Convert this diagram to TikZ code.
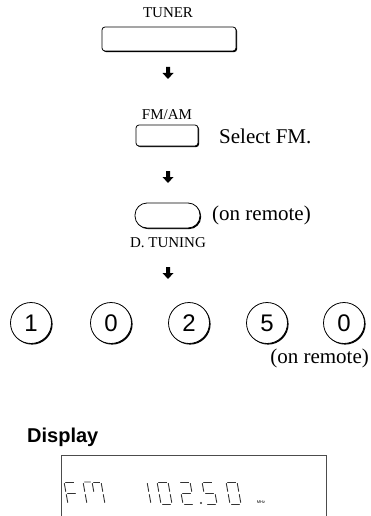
\documentclass[tikz,border=0pt]{standalone}
\usepackage{fontspec}
\setmainfont{Liberation Serif}
\setsansfont{Liberation Sans}
\usetikzlibrary{shadows}

% segments of one display digit (cell 11 x 22)
\def\lcda{(1.5,22)--(9.5,22)}
\def\lcdb{(11,20.5)--(11,12.5)}
\def\lcdc{(11,9.5)--(11,1.5)}
\def\lcdd{(1.5,0)--(9.5,0)}
\def\lcde{(0,1.5)--(0,9.5)}
\def\lcdf{(0,12.5)--(0,20.5)}
\def\lcdg{(1.5,11)--(9.5,11)}
\newcommand\lcddigit[3]{%
  \begin{scope}[shift={(#1,#2)}, yscale=-1, xslant=0.18]
    \foreach \s in {#3} {\draw[seg] \csname lcd\s\endcsname;}
  \end{scope}}

\tikzset{
  keyshadow/.style={drop shadow={shadow xshift=1.1pt, shadow yshift=-1.1pt, opacity=1, fill=black}},
  btn/.style={draw, line width=0.8pt, fill=white, rounded corners=3pt, inner sep=0pt, keyshadow},
  pill/.style={btn, rounded corners=12pt},
  numkey/.style={draw, circle, line width=0.8pt, fill=white, minimum size=41pt, inner sep=0pt,
    font=\sffamily\fontsize{24}{24}\selectfont, keyshadow},
  lbl/.style={font=\fontsize{15}{15}\selectfont},
  txt/.style={font=\fontsize{21}{21}\selectfont, anchor=west, inner sep=0pt},
  seg/.style={line width=0.9pt, line cap=round, black!80},
  pics/steparrow/.style={code={\fill (-2,-6) -- (2,-6) -- (2,0) -- (5.5,0) -- (0,6) -- (-5.5,0) -- (-2,0) -- cycle;}}
}

\begin{document}
\begin{tikzpicture}[x=1pt, y=-1pt]
        \useasboundingbox (0,0) rectangle (371,516);

        % TUNER
        \node[lbl] (tunerlbl) at (168,13) {TUNER};
        \node[btn, minimum width=134pt, minimum height=24pt] (tuner) at (169,39) {};
        \pic at (168,73) {steparrow};

        % FM/AM
        \node[lbl] (fmamlbl) at (167,115) {FM/AM};
        \node[btn, minimum width=62pt, minimum height=21pt] (fmam) at (167,135.5) {};
        \node[txt] (selfm) at (219,136) {Select FM.};
        \pic at (168,177) {steparrow};

        % D. TUNING
        \node[pill, minimum width=65pt, minimum height=25pt] (dtuning) at (167.5,215.5) {};
        \node[txt] (remote1) at (212,215) {(on remote)};
        \node[lbl] (dtunlbl) at (168,243) {D. TUNING};
        \pic at (168,273) {steparrow};

        % Zifferntasten
        \node[numkey] (k1) at (31,323) {1};
        \node[numkey] (k2) at (111,323) {0};
        \node[numkey] (k3) at (189,323) {2};
        \node[numkey] (k4) at (267,323) {5};
        \node[numkey] (k5) at (344,323) {0};
        \node[txt, anchor=east] (remote2) at (369,358) {(on remote)};

        % Display
        \node[font=\sffamily\bfseries\fontsize{20}{20}\selectfont, anchor=west, inner sep=0pt] (displbl) at (27,437) {Display};
        \draw[black!70, line width=0.8pt] (61,516) -- (61,455) -- (326,455) -- (326,516);

        % FM
        \lcddigit{68}{504}{a,e,f,g}
        \begin{scope}[shift={(87,504)}, yscale=-1, xslant=0.18]
            \draw[seg] (0,1.5) -- (0,9.5) (0,12.5) -- (0,20.5);
            \draw[seg] (1.5,22) -- (7.5,22) (9,20.5) -- (9,12.5);
            \draw[seg] (10.5,22) -- (16.5,22);
            \draw[seg] (18,20.5) -- (18,12.5) (18,9.5) -- (18,1.5);
        \end{scope}
        % 102.50
        \lcddigit{140}{504}{b,c}
        \lcddigit{161}{504}{a,b,c,d,e,f}
        \lcddigit{183}{504}{a,b,g,e,d}
        \fill[black!80] (201,503) circle (1.2);
        \lcddigit{206}{504}{a,f,g,c,d}
        \lcddigit{230}{504}{a,b,c,d,e,f}
        \node[font=\sffamily\fontsize{4}{4}\selectfont, inner sep=0pt] (mhz) at (261,502) {MHz};

    \end{tikzpicture}
\end{document}
